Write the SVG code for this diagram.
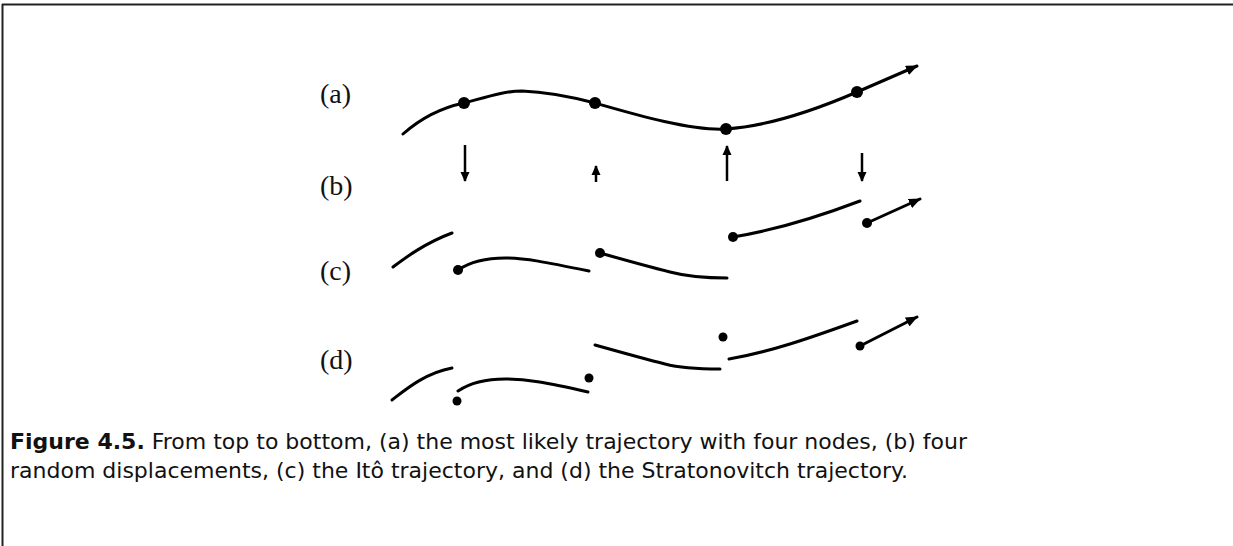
<svg xmlns="http://www.w3.org/2000/svg" width="1233" height="546" viewBox="0 0 1233 546">
<style>
.lbl{font-family:"Liberation Serif","Times New Roman",serif;font-size:28px;fill:#111}
.cap{font-family:"DejaVu Sans",sans-serif;font-size:22px;fill:#111}
.tr{fill:none;stroke:#000;stroke-width:3;stroke-linecap:round}
.ar{fill:none;stroke:#000;stroke-width:2.5}
.dot{fill:#000}
</style>
<defs>
<marker id="ah" markerUnits="userSpaceOnUse" markerWidth="12" markerHeight="10" refX="11" refY="5" orient="auto" viewBox="0 0 12 10">
<path d="M0,0 L12,5 L0,10 z" fill="#000"/>
</marker>
<marker id="ahs" markerUnits="userSpaceOnUse" markerWidth="10" markerHeight="10" refX="9" refY="5" orient="auto" viewBox="0 0 10 10">
<path d="M0,0.5 L10,5 L0,9.5 z" fill="#000"/>
</marker>
</defs>
<rect width="1233" height="546" fill="#fff"/>
<g id="frame" stroke="#222" stroke-width="2" fill="none">
<line x1="2" y1="4.5" x2="1233" y2="4.5"/>
<line x1="2.5" y1="4" x2="2.5" y2="546"/>
</g>
<g id="labels">
<text class="lbl" x="320" y="103">(a)</text>
<text class="lbl" x="320" y="195">(b)</text>
<text class="lbl" x="320" y="280">(c)</text>
<text class="lbl" x="320" y="369">(d)</text>
</g>
<g id="row-a">
<path class="tr" d="M403,134 C420,119 440,108 464,103 C490,96 505,91 522,91 C550,92 572,97 595,103 C630,113 690,131 726,129 C770,126 820,108 857,92" />
<circle class="dot" cx="464" cy="103" r="6"/>
<circle class="dot" cx="595" cy="103" r="6"/>
<circle class="dot" cx="726" cy="129" r="6"/>
<circle class="dot" cx="857" cy="92" r="6"/>
</g>
<g id="row-b">
<line class="ar" x1="465" y1="145" x2="465" y2="181" marker-end="url(#ahs)"/>
<line class="ar" x1="596" y1="182" x2="596" y2="166" marker-end="url(#ahs)"/>
<line class="ar" x1="727" y1="181" x2="727" y2="146" marker-end="url(#ahs)"/>
<line class="ar" x1="862" y1="153" x2="862" y2="181" marker-end="url(#ahs)"/>
</g>
<g id="row-c">
<path class="tr" d="M393,267 C405,258 425,243 452,233"/>
<path class="tr" d="M458,270 C470,262 485,258 505,258 C525,258 545,262 589,271"/>
<path class="tr" d="M600,253 C625,260 650,267 670,272 C685,276 700,278 727,278"/>
<path class="tr" d="M733,237 C770,231 810,220 860,201"/>
<circle class="dot" cx="458" cy="270" r="5"/>
<circle class="dot" cx="600" cy="253" r="5"/>
<circle class="dot" cx="733" cy="237" r="5"/>
<circle class="dot" cx="867" cy="223" r="5"/>
</g>
<g id="row-d">
<path class="tr" d="M392,400 C405,390 425,373 452,368"/>
<path class="tr" d="M458,391 C470,383 485,379 505,379 C525,379 545,382 588,392"/>
<path class="tr" d="M595,345 C620,352 645,359 665,364 C680,368 700,369 720,369"/>
<path class="tr" d="M729,359 C770,352 810,338 857,321"/>
<circle class="dot" cx="457" cy="401" r="4.5"/>
<circle class="dot" cx="589" cy="378" r="4.5"/>
<circle class="dot" cx="723" cy="337" r="4.5"/>
<circle class="dot" cx="860" cy="346" r="4.5"/>
</g>
<g id="connectors">
<line class="tr" x1="857" y1="92" x2="917" y2="66" marker-end="url(#ah)" stroke-linecap="butt"/>
<line class="tr" x1="867" y1="223" x2="920" y2="199" marker-end="url(#ah)" stroke-linecap="butt"/>
<line class="tr" x1="860" y1="346" x2="917" y2="317" marker-end="url(#ah)" stroke-linecap="butt"/>
</g>
<g id="caption">
<text class="cap" x="10" y="449"><tspan font-weight="bold">Figure 4.5.</tspan> From top to bottom, (a) the most likely trajectory with four nodes, (b) four</text>
<text class="cap" x="10" y="478">random displacements, (c) the Itô trajectory, and (d) the Stratonovitch trajectory.</text>
</g>
</svg>
